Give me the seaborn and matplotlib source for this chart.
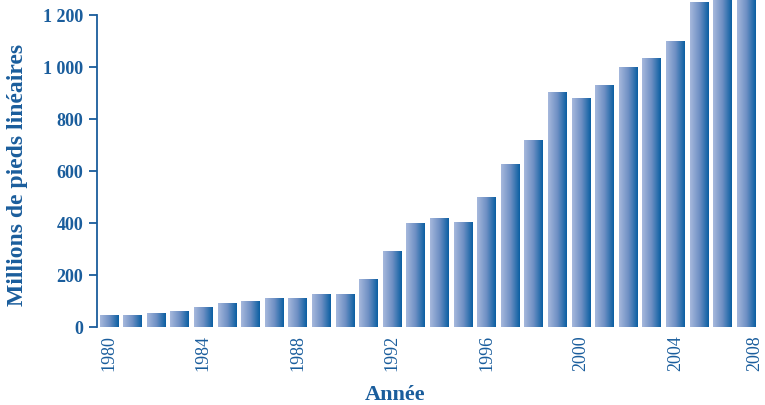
import numpy as np
import pandas as pd
import matplotlib
matplotlib.use("Agg")
import matplotlib.pyplot as plt
from matplotlib.colors import LinearSegmentedColormap
import seaborn as sns

# ---- data ----
years = list(range(1980, 2008))
values = [46, 46, 54, 62, 77, 92, 100, 112, 112, 127, 127, 185, 292,
          400, 419, 404, 500, 627, 719, 904, 881, 931, 1000, 1035, 1100,
          1250, 1290, 1330]
tick_years = [1980, 1984, 1988, 1992, 1996, 2000, 2004, 2008]
y_ticks = [0, 200, 400, 600, 800, 1000, 1200]
y_tick_labels = ["0", "200", "400", "600", "800", "1 000", "1 200"]
xlabel = "Année"
ylabel = "Millions de pieds linéaires"

TXT = "#1a5d9c"
sns.set_theme(style="white")
plt.rcParams["font.family"] = ["Liberation Serif", "DejaVu Serif"]

df = pd.DataFrame({"year": [str(y) for y in years], "value": values})

fig = plt.figure(figsize=(7.65, 4.05), dpi=100)
ax = fig.add_axes([97 / 765, 78 / 405, 668 / 765, 327 / 405])

sns.barplot(data=df, x="year", y="value", width=0.79, ax=ax,
            color="#3a6fb0", saturation=1, linewidth=0)

cmap = LinearSegmentedColormap.from_list("g", ["#a6b8dc", "#6f90c4", "#0b5fa2"])
grad = np.linspace(0, 1, 64).reshape(1, -1)
for p in list(ax.patches):
    x0, y0, w, h = p.get_x(), p.get_y(), p.get_width(), p.get_height()
    im = ax.imshow(grad, cmap=cmap, extent=[x0, x0 + w, y0, y0 + h],
                   aspect="auto", origin="lower", zorder=p.get_zorder())
    im.set_clip_path(p)
    p.set_facecolor("none")

# limits
ax.set_ylim(0, 1258)
ax.set_xlim(-0.508, 27.8)

# spines
for s in ["top", "right", "bottom"]:
    ax.spines[s].set_visible(False)
ax.spines["left"].set_color(TXT)
ax.spines["left"].set_linewidth(1.3)
ax.spines["left"].set_bounds(0, 1200)

# y ticks
ax.set_yticks(y_ticks)
ax.set_yticklabels(y_tick_labels)
ax.tick_params(axis="y", direction="out", length=6, width=1.3, color=TXT,
               pad=4, labelsize=13, labelcolor=TXT, left=True)
for t in ax.get_yticklabels():
    t.set_fontweight("bold")

# x ticks
pos = [years.index(y) if y in years else len(years) - 0.63 for y in tick_years]
ax.set_xticks(pos)
ax.set_xticklabels([str(y) for y in tick_years], rotation=90)
ax.tick_params(axis="x", length=0, pad=6, labelsize=13, labelcolor=TXT)

ax.set_xlabel(xlabel, fontsize=16, fontweight="bold", color=TXT, va="center")
ax.xaxis.set_label_coords((395 - 97) / 668, (327 - 395) / 327)
ax.set_ylabel(ylabel, fontsize=17, fontweight="bold", color=TXT, va="center")
ax.yaxis.set_label_coords((18 - 97) / 668, (327 - 175) / 327)

fig.savefig("out.png", dpi=100)
